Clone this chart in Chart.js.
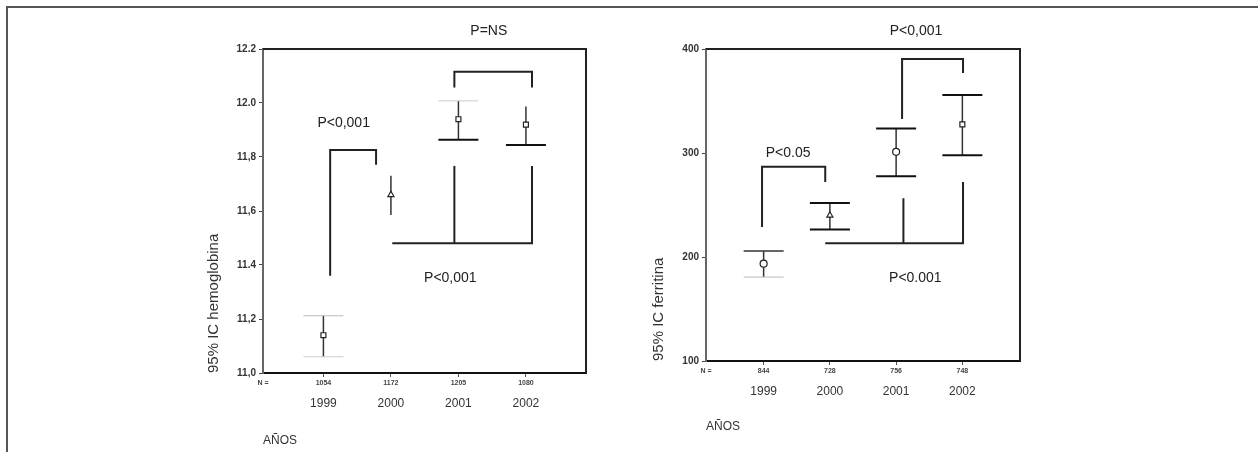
<!DOCTYPE html>
<html>
<head>
<meta charset="utf-8">
<script src="https://cdn.jsdelivr.net/npm/chart.js@4.4.0/dist/chart.umd.min.js"></script>
<style>
  body { margin: 0; background: #fff; font-family: "Liberation Sans", Arial, sans-serif; }
  #frame { position: absolute; left: 6px; top: 6px; width: 1270px; height: 470px; border-left: 2px solid #555; border-top: 2px solid #555; }
  #hb { position: absolute; left: 160px; top: 0; }
  #fe { position: absolute; left: 600px; top: 0; }
</style>
</head>
<body>
<div id="frame"></div>
<canvas id="hb" width="440" height="452"></canvas>
<canvas id="fe" width="440" height="452"></canvas>
<script>
// categories
const years = ["1999", "2000", "2001", "2002"];

// hemoglobina (95% IC)
const hbN = ["1054", "1172", "1205", "1080"];
const hbMean = [11.14, 11.66, 11.94, 11.92];
const hbLow = [11.06, 11.585, 11.864, 11.844];
const hbUp = [11.212, 11.731, 12.008, 11.987];
const hbTicks = [11.0, 11.2, 11.4, 11.6, 11.8, 12.0, 12.2];
const hbTickLabels = ["11,0", "11,2", "11.4", "11,6", "11,8", "12.0", "12.2"];

// ferritina (95% IC)
const feN = ["844", "728", "756", "748"];
const feMean = [193.6, 240.1, 301.1, 327.5];
const feLow = [180.7, 226.4, 277.7, 297.9];
const feUp = [205.7, 252.0, 323.6, 355.7];
const feTicks = [100, 200, 300, 400];
const feTickLabels = ["100", "200", "300", "400"];

// significance brackets (data units) and their labels
const hbBrackets = [
  [[1.10, 11.36], [1.10, 11.826], [1.78, 11.826], [1.78, 11.771]],
  [[2.94, 12.057], [2.94, 12.116], [4.09, 12.116], [4.09, 12.057]],
  [[2.02, 11.481], [4.09, 11.481], [4.09, 11.767]],
  [[2.94, 11.481], [2.94, 11.767]]
];
const hbNotes = [["P<0,001", 1.30, 11.926], ["P=NS", 3.45, 12.266], ["P<0,001", 2.88, 11.351]];

const feBrackets = [
  [[0.976, 228.9], [0.976, 286.7], [1.93, 286.7], [1.93, 272.2]],
  [[3.09, 332.6], [3.09, 390.4], [4.01, 390.4], [4.01, 376.9]],
  [[1.93, 213.2], [4.01, 213.2], [4.01, 272.2]],
  [[3.11, 213.2], [3.11, 256.5]]
];
const feNotes = [["P<0.05", 1.37, 299.8], ["P<0,001", 3.30, 417.3], ["P<0.001", 3.29, 179.5]];

function errorBars(lower, upper, capUp, capLow) {
  return {
    id: 'errorBars',
    beforeDatasetsDraw(chart) {
      const { ctx, scales: { x, y } } = chart;
      ctx.save();
      lower.forEach((lo, i) => {
        const px = x.getPixelForValue(i + 1);
        const yl = y.getPixelForValue(lo), yu = y.getPixelForValue(upper[i]);
        ctx.strokeStyle = '#333';
        ctx.lineWidth = 1.5;
        ctx.beginPath(); ctx.moveTo(px, yl); ctx.lineTo(px, yu); ctx.stroke();
        [[yu, capUp[i]], [yl, capLow[i]]].forEach(([cy, st]) => {
          if (!st) return;
          ctx.strokeStyle = st[0];
          ctx.lineWidth = st[1];
          ctx.beginPath(); ctx.moveTo(px - 20, cy); ctx.lineTo(px + 20, cy); ctx.stroke();
        });
      });
      ctx.restore();
    }
  };
}

const frameBox = {
  id: 'frameBox',
  afterDraw(chart) {
    const { ctx, chartArea: a } = chart;
    ctx.save();
    ctx.strokeStyle = '#222';
    ctx.lineWidth = 2;
    ctx.beginPath();
    ctx.moveTo(a.left, a.top); ctx.lineTo(a.right, a.top); ctx.lineTo(a.right, a.bottom);
    ctx.stroke();
    ctx.restore();
  }
};

function notes(list) {
  return {
    id: 'notes',
    afterDraw(chart) {
      const { ctx, scales: { x, y } } = chart;
      ctx.save();
      ctx.fillStyle = '#222';
      ctx.font = '14px "Liberation Sans", Arial, sans-serif';
      ctx.textAlign = 'center';
      ctx.textBaseline = 'middle';
      list.forEach(([t, vx, vy]) => ctx.fillText(t, x.getPixelForValue(vx), y.getPixelForValue(vy)));
      ctx.restore();
    }
  };
}

function panel(id, o) {
  const xTicks = s => { s.ticks = [o.xmin, 1, 2, 3, 4].map(v => ({ value: v })); };
  return new Chart(document.getElementById(id), {
    type: 'scatter',
    data: {
      datasets: [
        { data: o.mean.map((m, i) => ({ x: i + 1, y: m })), pointStyle: o.marks, pointRadius: 3.5,
          backgroundColor: '#fff', borderColor: '#222', borderWidth: 1.2 },
        ...o.brackets.map(b => ({ data: b.map(([x, y]) => ({ x, y })), showLine: true,
          borderColor: '#222', borderWidth: 2, pointRadius: 0 }))
      ]
    },
    options: {
      responsive: false,
      animation: false,
      events: [],
      layout: { padding: { top: 49, right: o.padRight, left: 0, bottom: 0 } },
      plugins: { legend: { display: false }, tooltip: { enabled: false } },
      scales: {
        x: {
          type: 'linear', min: o.xmin, max: o.xmax, weight: 0,
          afterBuildTicks: xTicks,
          afterFit: s => { s.height = 18; },
          grid: { drawOnChartArea: false, tickLength: 4, color: c => c.index === 0 ? 'rgba(0,0,0,0)' : '#555' },
          border: { color: '#111', width: 2 },
          ticks: { autoSkip: false, maxRotation: 0, padding: 2, color: '#444',
            font: { size: 7, weight: 'bold' },
            callback: (v, i) => i === 0 ? 'N =' : o.n[i - 1] }
        },
        x2: {
          type: 'linear', position: 'bottom', min: o.xmin, max: o.xmax, weight: 1,
          afterBuildTicks: xTicks,
          afterFit: s => { s.height = o.x2h; },
          grid: { display: false, drawTicks: false },
          border: { display: false },
          ticks: { autoSkip: false, maxRotation: 0, padding: 5, color: '#333',
            font: { size: 12 },
            callback: (v, i) => i === 0 ? '' : years[i - 1] },
          title: { display: true, text: 'AÑOS', align: 'start', color: '#333',
            font: { size: 12 }, padding: { top: 0, bottom: o.axPad } }
        },
        y: {
          min: o.yTicks[0], max: o.yTicks[o.yTicks.length - 1],
          afterBuildTicks: s => { s.ticks = o.yTicks.map(v => ({ value: v })); },
          afterFit: s => { s.width = o.yw; },
          grid: { drawOnChartArea: false, tickLength: 4, color: '#444' },
          border: { color: '#666', width: 2 },
          ticks: { padding: 3, color: '#333', font: { size: 10, weight: 'bold' },
            callback: (v, i) => o.yLabels[i] },
          title: { display: true, text: o.yTitle, align: 'start', color: '#333',
            font: { size: 15 }, padding: { top: o.yTitlePad, bottom: 0 } }
        }
      }
    },
    plugins: [errorBars(o.low, o.up, o.capUp, o.capLow), frameBox, notes(o.notes)]
  });
}

panel('hb', {
  n: hbN, mean: hbMean, low: hbLow, up: hbUp, yTicks: hbTicks, yLabels: hbTickLabels,
  brackets: hbBrackets, notes: hbNotes, yTitle: '95% IC hemoglobina',
  marks: ['rect', 'triangle', 'rect', 'rect'],
  capUp: [['#bbb', 1], null, ['#ccc', 1], null],
  capLow: [['#ccc', 1], null, ['#111', 2], ['#111', 2]],
  xmin: 0.105, xmax: 4.89, padRight: 14, yw: 103, x2h: 61, axPad: 4, yTitlePad: 45
});

panel('fe', {
  n: feN, mean: feMean, low: feLow, up: feUp, yTicks: feTicks, yLabels: feTickLabels,
  brackets: feBrackets, notes: feNotes, yTitle: '95% IC ferritina',
  marks: ['circle', 'triangle', 'circle', 'rect'],
  capUp: [['#333', 1.5], ['#111', 2], ['#111', 2], ['#111', 2]],
  capLow: [['#bbb', 1], ['#111', 2], ['#111', 2], ['#111', 2]],
  xmin: 0.13, xmax: 4.87, padRight: 20, yw: 106, x2h: 73, axPad: 18, yTitlePad: 50
});
</script>
</body>
</html>
